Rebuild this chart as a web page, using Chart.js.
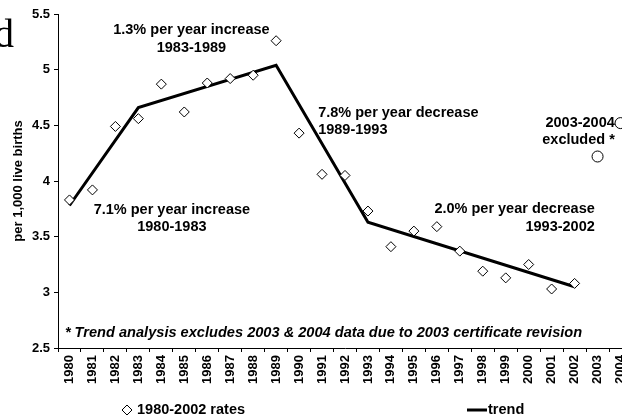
<!DOCTYPE html>
<html>
<head>
<meta charset="utf-8">
<script src="https://cdn.jsdelivr.net/npm/chart.js@4/dist/chart.umd.min.js"></script>
<style>
  html, body { margin: 0; padding: 0; overflow: hidden; background: #fff; }
  #wrap { position: relative; width: 640px; height: 420px; }
  #c { display: block; }
  #frag { position: absolute; left: -6px; top: 10px; font-family: 'Liberation Serif', 'Times New Roman', serif; font-size: 40px; line-height: 48px; color: #000; }
</style>
</head>
<body>
<div id="wrap">
  <canvas id="c" width="640" height="420"></canvas>
  <div id="frag">d</div>
</div>
<script>
// ---- data ----
const years = ['1980','1981','1982','1983','1984','1985','1986','1987','1988','1989','1990','1991','1992','1993','1994','1995','1996','1997','1998','1999','2000','2001','2002','2003','2004'];
const rates = [3.83, 3.92, 4.49, 4.56, 4.87, 4.62, 4.88, 4.92, 4.95, 5.26, 4.43, 4.06, 4.05, 3.73, 3.41, 3.55, 3.59, 3.37, 3.19, 3.13, 3.25, 3.03, 3.08, null, null];
const trend = [3.78, null, null, 4.66, null, null, null, null, null, 5.04, null, null, null, 3.63, null, null, null, null, null, null, null, null, 3.05, null, null];
const excluded = [null, null, null, null, null, null, null, null, null, null, null, null, null, null, null, null, null, null, null, null, null, null, null, 4.22, 4.52];
const yTicks = [2.5, 3, 3.5, 4, 4.5, 5, 5.5];
const legendLabels = ['1980-2002 rates', 'trend'];
const yTitle = 'per 1,000 live births';
const footnote = '* Trend analysis excludes 2003 & 2004 data due to 2003 certificate revision';
const notes = [
  { lines: ['1.3% per year increase', '1983-1989'], idx: 5.31, val: 5.356, align: 'center' },
  { lines: ['7.8% per year decrease', '1989-1993'], idx: 10.83, val: 4.614, align: 'left' },
  { lines: ['7.1% per year increase', '1980-1983'], idx: 4.46, val: 3.741, align: 'center' },
  { lines: ['2.0% per year decrease', '1993-2002'], idx: 22.88, val: 3.745, align: 'right' },
  { lines: ['2003-2004', 'excluded *'], idx: 23.75, val: 4.522, align: 'right' }
];
const footAnchor = { idx: -0.2, val: 2.636 };

const FONT = "'Liberation Sans', Arial, sans-serif";
Chart.defaults.font.family = FONT;
Chart.defaults.color = '#000';

const annotationPlugin = {
  id: 'annos',
  afterDatasetsDraw(chart) {
    const ctx = chart.ctx, xs = chart.scales.x, ys = chart.scales.y;
    ctx.save();
    ctx.fillStyle = '#000';
    ctx.textBaseline = 'middle';
    ctx.font = 'bold 14.5px ' + FONT;
    notes.forEach(n => {
      const x = xs.getPixelForValue(n.idx), y = ys.getPixelForValue(n.val);
      ctx.textAlign = n.align;
      n.lines.forEach((t, i) => ctx.fillText(t, x, y + i * 17.5));
    });
    ctx.font = 'italic bold 14.6px ' + FONT;
    ctx.textAlign = 'left';
    ctx.fillText(footnote, xs.getPixelForValue(footAnchor.idx), ys.getPixelForValue(footAnchor.val));
    // legend
    const ly = 410;
    const d0 = chart.data.datasets[0], d1 = chart.data.datasets[1];
    ctx.font = 'bold 14.5px ' + FONT;
    ctx.textAlign = 'left';
    ctx.lineWidth = 1;
    ctx.strokeStyle = d0.borderColor;
    ctx.fillStyle = d0.pointBackgroundColor;
    Chart.helpers.drawPoint(ctx, { pointStyle: 'rectRot', radius: 5, borderWidth: 1 }, 127, ly);
    ctx.fillStyle = '#000';
    ctx.fillText(legendLabels[0], 137, ly);
    ctx.beginPath();
    ctx.strokeStyle = d1.borderColor;
    ctx.lineWidth = d1.borderWidth;
    ctx.moveTo(467, ly); ctx.lineTo(487, ly);
    ctx.stroke();
    ctx.fillText(legendLabels[1], 488, ly);
    ctx.restore();
  }
};

const chart = new Chart(document.getElementById('c'), {
  type: 'line',
  data: {
    labels: years,
    datasets: [
      { label: legendLabels[0], data: rates, showLine: false, pointStyle: 'rectRot', pointRadius: 5, pointBorderWidth: 1,
        borderColor: '#000', pointBorderColor: '#000', pointBackgroundColor: '#fff', order: 0 },
      { label: legendLabels[1], data: trend, spanGaps: true, borderColor: '#000', borderWidth: 3, pointRadius: 0, tension: 0, order: 1 },
      { label: 'excluded', data: excluded, showLine: false, pointStyle: 'circle', pointRadius: 5.5, pointBorderWidth: 1,
        borderColor: '#000', pointBorderColor: '#000', pointBackgroundColor: '#fff', order: 0 }
    ]
  },
  options: {
    responsive: false,
    animation: false,
    events: [],
    layout: { padding: { top: 14, left: 0, right: 8, bottom: 22 } },
    plugins: { legend: { display: false }, tooltip: { enabled: false } },
    scales: {
      x: {
        type: 'category',
        offset: true,
        grid: { offset: true, drawOnChartArea: false, drawTicks: true, tickLength: 4, color: '#000' },
        border: { display: true, color: '#000', width: 1 },
        ticks: { maxRotation: 90, minRotation: 90, autoSkip: false, padding: 3, font: { size: 13, weight: 'bold' }, color: '#000' },
        afterFit(s) { s.height = 50; s.paddingLeft = 0; s.paddingRight = 0; }
      },
      y: {
        min: 2.5, max: 5.5,
        afterBuildTicks(s) { s.ticks = yTicks.map(v => ({ value: v })); },
        grid: { drawOnChartArea: false, drawTicks: true, tickLength: 4, color: '#000' },
        border: { display: true, color: '#000', width: 1 },
        ticks: { padding: 4, font: { size: 13, weight: 'bold' }, color: '#000', callback: v => String(v) },
        title: { display: true, text: yTitle, font: { size: 13, weight: 'bold' }, color: '#000', padding: { top: 11, bottom: 0 } },
        afterFit(s) { s.width = 58; s.paddingTop = 0; s.paddingBottom = 0; }
      }
    }
  },
  plugins: [annotationPlugin]
});
</script>
</body>
</html>
